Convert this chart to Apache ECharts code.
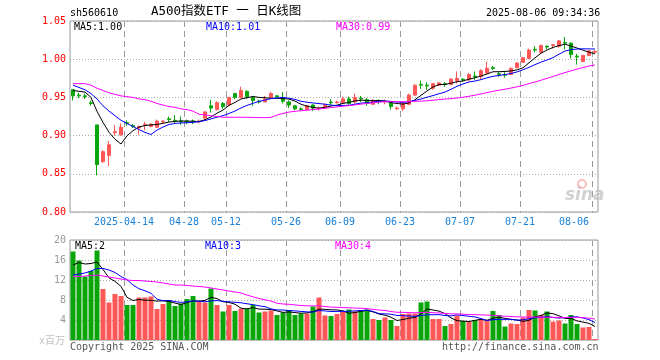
<!DOCTYPE html>
<html><head><meta charset="utf-8">
<script src="https://cdn.jsdelivr.net/npm/echarts@6/dist/echarts.min.js"></script>
<style>html,body{margin:0;padding:0;background:#fff}#c{width:660px;height:360px}</style>
</head><body><div id="c"></div>
<script>
const dates = ['2025-03-31',
 '2025-04-01','2025-04-02','2025-04-03','2025-04-07','2025-04-08','2025-04-09','2025-04-10','2025-04-11',
 '2025-04-14','2025-04-15','2025-04-16','2025-04-17','2025-04-18',
 '2025-04-21','2025-04-22','2025-04-23','2025-04-24','2025-04-25',
 '2025-04-28','2025-04-29','2025-04-30',
 '2025-05-06','2025-05-07','2025-05-08','2025-05-09',
 '2025-05-12','2025-05-13','2025-05-14','2025-05-15','2025-05-16',
 '2025-05-19','2025-05-20','2025-05-21','2025-05-22','2025-05-23',
 '2025-05-26','2025-05-27','2025-05-28','2025-05-29','2025-05-30',
 '2025-06-03','2025-06-04','2025-06-05','2025-06-06',
 '2025-06-09','2025-06-10','2025-06-11','2025-06-12','2025-06-13',
 '2025-06-16','2025-06-17','2025-06-18','2025-06-19','2025-06-20',
 '2025-06-23','2025-06-24','2025-06-25','2025-06-26','2025-06-27',
 '2025-06-30','2025-07-01','2025-07-02','2025-07-03','2025-07-04',
 '2025-07-07','2025-07-08','2025-07-09','2025-07-10','2025-07-11',
 '2025-07-14','2025-07-15','2025-07-16','2025-07-17','2025-07-18',
 '2025-07-21','2025-07-22','2025-07-23','2025-07-24','2025-07-25',
 '2025-07-28','2025-07-29','2025-07-30','2025-07-31',
 '2025-08-01','2025-08-04','2025-08-05','2025-08-06'];

const opens = [0.960,0.953,0.952,0.943,0.914,0.866,0.874,0.904,0.901,0.917,
 0.913,0.910,0.914,0.912,0.911,0.918,0.922,0.920,0.919,0.919,
 0.919,0.918,0.923,0.939,0.934,0.942,0.940,0.955,0.950,0.958,
 0.950,0.945,0.944,0.949,0.952,0.950,0.944,0.939,0.935,0.934,
 0.940,0.935,0.936,0.944,0.943,0.943,0.948,0.944,0.949,0.947,
 0.941,0.946,0.944,0.943,0.935,0.935,0.941,0.953,0.967,0.966,
 0.962,0.966,0.968,0.967,0.972,0.974,0.973,0.978,0.977,0.982,
 0.989,0.981,0.980,0.980,0.989,0.996,1.001,1.013,1.009,1.017,
 1.018,1.017,1.022,1.021,1.004,0.997,1.005,1.009];
const closes = [0.952,0.952,0.951,0.942,0.862,0.879,0.888,0.905,0.911,0.916,
 0.912,0.912,0.915,0.915,0.919,0.919,0.921,0.919,0.918,0.918,
 0.918,0.919,0.931,0.936,0.943,0.938,0.950,0.950,0.959,0.951,
 0.946,0.944,0.948,0.955,0.951,0.945,0.940,0.935,0.934,0.939,
 0.936,0.936,0.940,0.943,0.944,0.948,0.942,0.950,0.948,0.942,
 0.946,0.945,0.945,0.938,0.936,0.942,0.953,0.966,0.966,0.965,
 0.968,0.969,0.967,0.974,0.975,0.973,0.980,0.977,0.985,0.988,
 0.988,0.980,0.979,0.988,0.995,1.002,1.012,1.012,1.018,1.016,
 1.019,1.024,1.021,1.006,1.003,1.005,1.011,1.010];
const lows = [0.946,0.949,0.948,0.939,0.848,0.864,0.860,0.900,0.900,0.913,
 0.910,0.901,0.907,0.911,0.910,0.916,0.918,0.916,0.914,0.915,
 0.915,0.916,0.921,0.930,0.933,0.935,0.939,0.948,0.949,0.948,
 0.939,0.942,0.944,0.948,0.949,0.942,0.936,0.933,0.932,0.933,
 0.932,0.933,0.935,0.940,0.942,0.941,0.939,0.942,0.944,0.939,
 0.940,0.941,0.941,0.934,0.934,0.932,0.940,0.952,0.961,0.960,
 0.960,0.965,0.964,0.966,0.968,0.970,0.971,0.973,0.974,0.980,
 0.986,0.977,0.976,0.979,0.988,0.995,1.000,1.009,1.008,1.013,
 1.014,1.015,1.013,1.001,0.993,0.996,1.004,1.008];
const highs = [0.961,0.956,0.955,0.946,0.914,0.881,0.893,0.914,0.916,0.920,
 0.915,0.913,0.918,0.916,0.921,0.920,0.925,0.927,0.925,0.921,
 0.921,0.921,0.932,0.947,0.945,0.944,0.950,0.956,0.964,0.959,
 0.951,0.947,0.952,0.957,0.953,0.957,0.946,0.940,0.937,0.940,
 0.941,0.938,0.942,0.948,0.946,0.951,0.951,0.955,0.952,0.949,
 0.948,0.947,0.947,0.944,0.938,0.944,0.955,0.967,0.972,0.970,
 0.969,0.970,0.970,0.975,0.984,0.975,0.982,0.984,0.987,0.997,
 0.991,0.983,0.983,0.989,0.996,1.003,1.014,1.017,1.019,1.018,
 1.020,1.025,1.029,1.022,1.007,1.005,1.012,1.012];
const volumes = [17.7,15.9,12.7,13.8,17.9,10.2,7.5,9.2,8.8,7.0,
 7.0,8.5,8.5,8.7,6.2,7.2,8.0,6.8,7.3,8.2,
 8.8,7.8,7.5,10.3,7.0,5.7,7.0,5.8,6.3,6.3,
 7.0,5.5,5.7,5.9,5.0,5.5,6.0,5.0,5.3,5.3,
 6.7,8.5,4.9,4.8,5.2,5.7,6.1,5.7,6.0,6.1,
 4.2,4.0,4.5,4.0,2.8,5.2,5.3,5.3,7.5,7.7,
 4.2,4.2,2.8,3.2,4.9,3.8,3.8,4.0,4.2,3.9,
 5.8,5.0,2.7,3.3,3.2,4.5,6.0,5.9,5.0,5.7,
 3.7,3.9,3.3,5.0,3.2,2.5,2.6,0.2];

// moving-average values for days whose window starts before the first shown day
const ma5Head = [0.959,0.958,0.957,0.950];
const ma10Head = [0.966,0.963,0.960,0.955,0.948,0.939,0.932,0.926,0.920];
const ma30Head = [0.968,0.968,0.968,0.966,0.962,0.959,0.956,0.954,0.952,0.951,
 0.950,0.948,0.947,0.945,0.942,0.940,0.938,0.937,0.935,0.934,
 0.932,0.928,0.927,0.926,0.925,0.924,0.924,0.924,0.924];
const vma5Head = [15.0,15.5,15.2,15.3];
const vma10Head = [13.0,13.2,13.4,13.8,14.3,14.3,14.0,13.5,12.7];
const vma30Head = [12.7,12.7,12.8,12.9,13.0,12.8,12.6,12.4,12.2,12.0,
 11.9,11.9,11.8,11.7,11.6,11.4,11.2,11.0,11.0,10.9,
 10.8,10.7,10.6,10.4,10.2,10.0,9.8,9.6,9.4];

const tickDates = ['2025-04-14','2025-04-28','2025-05-12','2025-05-26','2025-06-09','2025-06-23','2025-07-07','2025-07-21','2025-08-06'];
const priceTicks = {min:0.80, max:1.05, step:0.05};
const volTicks = {min:0, max:20, step:4};

function movingAvg(src, n, head) {
  return src.map((v, i) => {
    if (i < n - 1) return head[i];
    let s = 0;
    for (let k = i - n + 1; k <= i; k++) s += src[k];
    return +(s / n).toFixed(4);
  });
}

const RED = '#ff5656', GREEN = '#09a509';
const MONO = '"DejaVu Sans Mono", monospace';
const kData = dates.map((d, i) => [opens[i], closes[i], lows[i], highs[i]]);
const volData = volumes.map((v, i) => ({value: v, itemStyle: {color: closes[i] > opens[i] ? RED : GREEN}}));
const tickIdx = tickDates.map(d => dates.indexOf(d));

const isTick = (idx) => tickIdx.indexOf(idx) >= 0;
const splitH = {show: true, lineStyle: {color: '#aaaaaa', type: [1, 2], width: 1}};

const texts = [
  {type: 'text', x: 70, y: 13, style: {text: 'sh560610', fill: '#000', font: '10px ' + MONO, verticalAlign: 'middle'}},
  {type: 'text', x: 151, y: 12, style: {text: 'A500指数ETF 一 日K线图', fill: '#000', font: '12.5px "DejaVu Sans Mono", "Noto Sans CJK SC"', verticalAlign: 'middle'}},
  {type: 'text', x: 486, y: 13, style: {text: '2025-08-06 09:34:36', fill: '#000', font: '10px ' + MONO, verticalAlign: 'middle'}},
  {type: 'text', x: 74, y: 27, z: 10, style: {text: 'MA5:1.00', fill: '#000', font: '10px ' + MONO, verticalAlign: 'middle'}},
  {type: 'text', x: 206, y: 27, z: 10, style: {text: 'MA10:1.01', fill: '#0000ff', font: '10px ' + MONO, verticalAlign: 'middle'}},
  {type: 'text', x: 336, y: 27, z: 10, style: {text: 'MA30:0.99', fill: '#ff00ff', font: '10px ' + MONO, verticalAlign: 'middle'}},
  {type: 'text', x: 75, y: 246, z: 10, style: {text: 'MA5:2', fill: '#000', font: '10px ' + MONO, verticalAlign: 'middle'}},
  {type: 'text', x: 205, y: 246, z: 10, style: {text: 'MA10:3', fill: '#0000ff', font: '10px ' + MONO, verticalAlign: 'middle'}},
  {type: 'text', x: 335, y: 246, z: 10, style: {text: 'MA30:4', fill: '#ff00ff', font: '10px ' + MONO, verticalAlign: 'middle'}},
  {type: 'text', x: 39, y: 341, style: {text: 'x百万', fill: '#c0c0c0', font: '10px "DejaVu Sans Mono", "Noto Sans CJK SC"', verticalAlign: 'middle'}},
  {type: 'text', x: 70, y: 347, style: {text: 'Copyright 2025 SINA.COM', fill: '#555', font: '10px ' + MONO, verticalAlign: 'middle'}},
  {type: 'text', x: 442, y: 347, style: {text: 'http://finance.sina.com.cn', fill: '#555', font: '10px ' + MONO, verticalAlign: 'middle'}},
  {type: 'text', x: 565, y: 196, style: {text: 'sina', fill: 'rgba(190,190,190,0.7)', font: 'italic bold 17px "DejaVu Sans"', verticalAlign: 'middle'}},
  {type: 'circle', shape: {cx: 582, cy: 184, r: 4}, style: {fill: 'none', stroke: 'rgba(240,150,150,0.6)', lineWidth: 2}}
];

const chart = echarts.init(document.getElementById('c'));
chart.setOption({
  animation: false,
  backgroundColor: '#ffffff',
  grid: [
    {left: 70, top: 21, width: 528, height: 191, show: true, borderColor: '#999', borderWidth: 1},
    {left: 70, top: 240, width: 528, height: 100, show: true, borderColor: '#999', borderWidth: 1}
  ],
  xAxis: [
    {type: 'category', gridIndex: 0, data: dates,
     axisLine: {show: false}, axisTick: {show: false}, splitLine: {show: false},
     axisLabel: {interval: isTick, color: '#1a80d6', fontFamily: MONO, fontSize: 10, margin: 5,
       padding: [0, 6, 0, 0], alignMaxLabel: 'right',
       formatter: (v) => v === tickDates[0] ? v : v.slice(5)}},
    {type: 'category', gridIndex: 1, data: dates,
     axisLine: {show: false}, axisTick: {show: false}, splitLine: {show: false}, axisLabel: {show: false}}
  ],
  yAxis: [
    {type: 'value', gridIndex: 0, min: priceTicks.min, max: priceTicks.max, interval: priceTicks.step,
     axisLine: {show: false}, axisTick: {show: false}, splitLine: splitH,
     axisLabel: {color: '#ff0000', fontFamily: MONO, fontSize: 10, margin: 4, formatter: (v) => v.toFixed(2)}},
    {type: 'value', gridIndex: 1, min: volTicks.min, max: volTicks.max, interval: volTicks.step,
     axisLine: {show: false}, axisTick: {show: false}, splitLine: splitH,
     axisLabel: {color: '#999999', fontFamily: MONO, fontSize: 10, margin: 4, formatter: (v) => v === 0 ? '' : String(v)}}
  ],
  series: [
    {type: 'candlestick', xAxisIndex: 0, yAxisIndex: 0, data: kData, barWidth: 4,
     itemStyle: {color: RED, color0: GREEN, borderColor: RED, borderColor0: GREEN, borderWidth: 1}},
    {type: 'line', xAxisIndex: 0, yAxisIndex: 0, data: movingAvg(closes, 5, ma5Head), showSymbol: false,
     lineStyle: {color: '#000000', width: 1}, itemStyle: {color: '#000'}},
    {type: 'line', xAxisIndex: 0, yAxisIndex: 0, data: movingAvg(closes, 10, ma10Head), showSymbol: false,
     lineStyle: {color: '#0000ff', width: 1}, itemStyle: {color: '#00f'}},
    {type: 'line', xAxisIndex: 0, yAxisIndex: 0, data: movingAvg(closes, 30, ma30Head), showSymbol: false,
     lineStyle: {color: '#ff00ff', width: 1}, itemStyle: {color: '#f0f'}},
    {type: 'bar', xAxisIndex: 1, yAxisIndex: 1, data: volData, barWidth: 5},
    {type: 'line', xAxisIndex: 1, yAxisIndex: 1, data: movingAvg(volumes, 5, vma5Head), showSymbol: false,
     lineStyle: {color: '#000000', width: 1}},
    {type: 'line', xAxisIndex: 1, yAxisIndex: 1, data: movingAvg(volumes, 10, vma10Head), showSymbol: false,
     lineStyle: {color: '#0000ff', width: 1}},
    {type: 'line', xAxisIndex: 1, yAxisIndex: 1, data: movingAvg(volumes, 30, vma30Head), showSymbol: false,
     lineStyle: {color: '#ff00ff', width: 1}}
  ],
  graphic: texts
});

// dashed date separators at the left edge of each tick day's slot, positioned through the axes' scales
const separators = [];
[[0, priceTicks], [1, volTicks]].forEach(([g, t]) => {
  const f = {gridIndex: g};
  const p0 = chart.convertToPixel(f, [0, t.min]);
  const p1 = chart.convertToPixel(f, [1, t.min]);
  const band = p1[0] - p0[0];
  tickIdx.forEach(i => {
    const lo = chart.convertToPixel(f, [i, t.min]);
    const hi = chart.convertToPixel(f, [i, t.max]);
    const x = Math.round(lo[0] - band / 2) + 0.5;
    separators.push({type: 'line', z: -1, silent: true,
      shape: {x1: x, y1: hi[1], x2: x, y2: lo[1]},
      style: {stroke: '#999999', lineWidth: 1, lineDash: [6, 4]}});
  });
});
chart.setOption({graphic: texts.concat(separators)});
</script></body></html>
